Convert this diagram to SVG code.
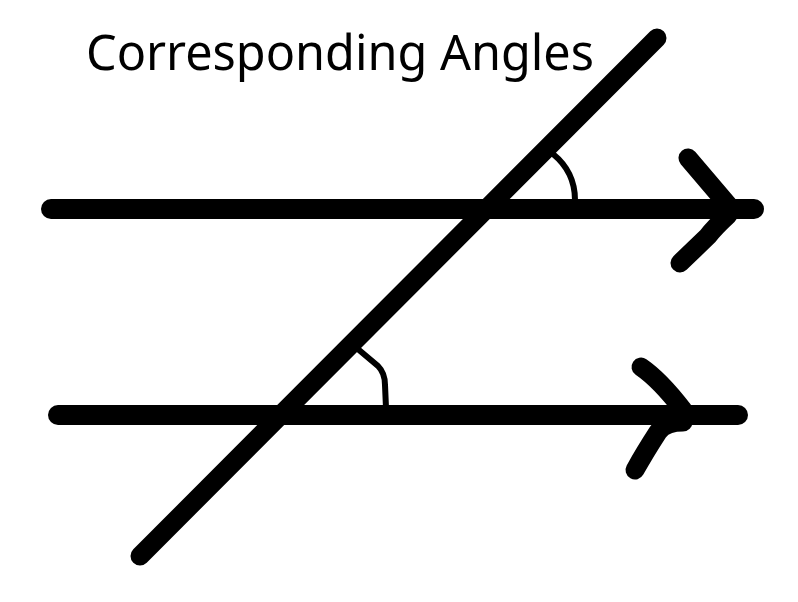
<svg xmlns="http://www.w3.org/2000/svg" width="798" height="602" viewBox="0 0 798 602">
<style>
.thick{stroke:#000;stroke-width:20;stroke-linecap:round;stroke-linejoin:round;fill:none}
.head{stroke:#000;stroke-width:19;stroke-linecap:round;stroke-linejoin:round;fill:none}
.arc{stroke:#000;stroke-width:6;stroke-linecap:round;stroke-linejoin:round;fill:none}
.title{font-family:"Noto Sans","Open Sans",sans-serif;font-size:49px;fill:#000}
</style>
<rect width="798" height="602" fill="#fff"/>
<text class="title" x="86" y="70" textLength="508" lengthAdjust="spacingAndGlyphs">Corresponding Angles</text>
<g id="connectors">
<g id="top-line">
<line class="thick" x1="51" y1="209" x2="754" y2="209"/>
<path class="head" d="M688,158 L728,205 M728,215 Q714,228 708,236 L680,263"/>
</g>
<g id="bottom-line">
<line class="thick" x1="58" y1="415" x2="738" y2="415"/>
<path class="head" d="M641,367 Q660,380 683,410 M683,422 Q665,422 658,432 Q645,452 635,470"/>
</g>
<g id="transversal">
<line class="thick" x1="140" y1="556" x2="657" y2="38" style="stroke-width:19"/>
</g>
<g id="angle-top">
<path class="arc" d="M553,154 Q575,172 575,200"/>
</g>
<g id="angle-bottom">
<path class="arc" d="M359,350 L378,366 Q385,373 385,385 L386,408"/>
</g>
</g>
</svg>
